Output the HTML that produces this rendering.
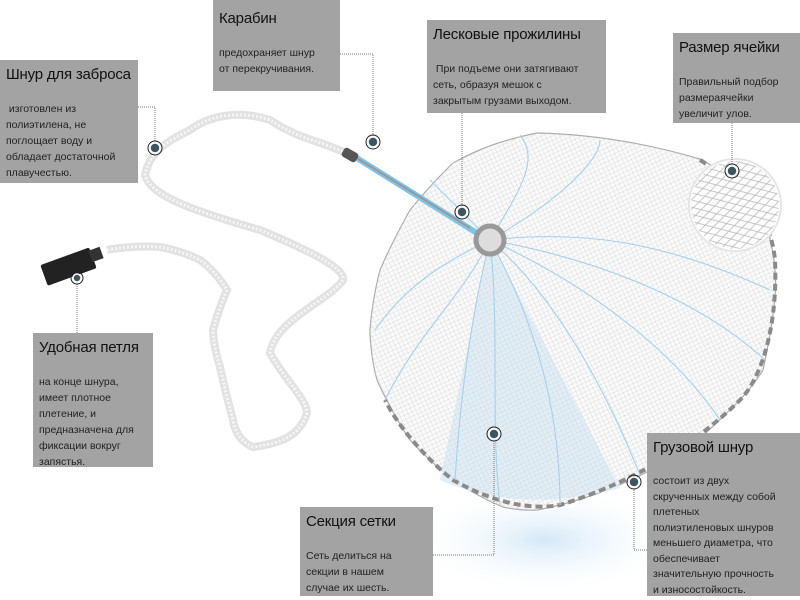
<!DOCTYPE html>
<html><head><meta charset="utf-8"><style>
body{margin:0;width:800px;height:600px;overflow:hidden;background:#fff;font-family:"Liberation Sans","DejaVu Sans",sans-serif;position:relative}
.b{position:absolute;background:#a3a3a3;color:#1e1e1e;box-sizing:border-box;padding:6px 4px 6px 6px;white-space:nowrap;overflow:hidden}
.b h{display:block;font-size:15px;color:#111;margin-bottom:18px;letter-spacing:-0.2px}
.b p{margin:0;font-size:10.5px;line-height:16px;color:#222}
svg{position:absolute;left:0;top:0}
</style></head><body>
<svg width="800" height="600" viewBox="0 0 800 600">
<defs>
<pattern id="mesh" width="6" height="6" patternUnits="userSpaceOnUse" patternTransform="rotate(20)">
<path d="M0 0L6 6M6 0L0 6" stroke="#d6d6d6" stroke-width="0.5"/>
</pattern>
<pattern id="mesh2" width="14" height="8" patternUnits="userSpaceOnUse" patternTransform="rotate(-15)">
<path d="M0 4L7 0L14 4L7 8Z" fill="none" stroke="#bbb" stroke-width="0.8"/>
</pattern>
<radialGradient id="glow" cx="0.5" cy="0.5" r="0.5"><stop offset="0" stop-color="#d3e8f7"/><stop offset="1" stop-color="#fff" stop-opacity="0"/></radialGradient>
</defs>
<ellipse cx="545" cy="540" rx="140" ry="55" fill="url(#glow)"/>
<path d="M537 133 C580 134 637 140 703 160 C740 185 770 210 770 240 C778 270 775 297 775 297 C772 330 763 370 763 370 C752 388 737 403 737 403 C712 428 687 450 687 450 C660 466 637 477 637 477 C610 490 587 497 587 497 C560 506 537 510 537 510 C520 511 503 507 503 507 C478 497 453 480 453 480 C430 462 410 440 410 440 C390 410 377 380 377 380 C370 355 370 330 370 330 C372 300 380 270 380 270 C393 240 410 210 410 210 C430 185 453 163 453 163 C480 148 503 140 537 133Z" fill="#fafafa" stroke="#aaa" stroke-width="1.2"/>
<path d="M490 240 L440 480 Q520 515 620 488 Z" fill="#e0eef8"/>
<path d="M537 133 C580 134 637 140 703 160 C740 185 770 210 770 240 C778 270 775 297 775 297 C772 330 763 370 763 370 C752 388 737 403 737 403 C712 428 687 450 687 450 C660 466 637 477 637 477 C610 490 587 497 587 497 C560 506 537 510 537 510 C520 511 503 507 503 507 C478 497 453 480 453 480 C430 462 410 440 410 440 C390 410 377 380 377 380 C370 355 370 330 370 330 C372 300 380 270 380 270 C393 240 410 210 410 210 C430 185 453 163 453 163 C480 148 503 140 537 133Z" fill="url(#mesh)"/>
<path d="M700 160 C740 185 770 210 775 260 C778 330 760 380 740 400 C700 440 640 480 560 505 C520 512 480 495 453 480 C430 462 400 430 385 400" fill="none" stroke="#8a8a8a" stroke-width="4" stroke-dasharray="7 4"/>
<g fill="none" stroke="#a6d0ea" stroke-width="1.1">
<path d="M490 240 C450 260 410 280 375 330"/><path d="M490 240 C460 300 420 330 385 400"/>
<path d="M490 240 C470 320 460 400 455 480"/><path d="M490 240 C500 330 490 420 500 505"/>
<path d="M490 240 C540 330 560 420 560 505"/><path d="M490 240 C560 300 610 400 640 475"/>
<path d="M490 240 C600 290 680 360 720 420"/><path d="M490 240 C600 260 700 300 765 360"/>
<path d="M490 240 C580 230 660 240 770 290"/><path d="M490 240 C560 200 600 160 600 140"/>
<path d="M490 240 C520 190 540 160 520 135"/><path d="M490 240 C450 200 430 180 430 180"/>
</g>
<path d="M352 155 L480 235" stroke="#7fc4ea" stroke-width="6"/>
<path d="M352 155 L470 228" stroke="#999" stroke-width="2"/>
<circle cx="490" cy="240" r="14" fill="#ddd" stroke="#999" stroke-width="5"/>
<circle cx="735" cy="205" r="46" fill="#fff" stroke="#e5e5e5" stroke-width="2"/>
<circle cx="735" cy="205" r="44" fill="url(#mesh2)"/>
<path d="M350 155 C320 140 300 140 270 120 C240 110 210 115 190 130 C170 140 150 150 145 175 C150 195 190 210 260 230 C320 255 345 270 343 280 C330 300 275 320 270 353 C285 380 307 400 307 413 C300 435 283 443 253 447 C235 440 233 420 233 420 C225 390 220 367 220 367 C213 345 213 330 213 330 C220 305 227 290 227 290 C215 270 200 260 200 260 C180 250 160 247 160 247 C130 245 107 250 107 250" fill="none" stroke="#e2e2e2" stroke-width="8"/>
<path d="M350 155 C320 140 300 140 270 120 C240 110 210 115 190 130 C170 140 150 150 145 175 C150 195 190 210 260 230 C320 255 345 270 343 280 C330 300 275 320 270 353 C285 380 307 400 307 413 C300 435 283 443 253 447 C235 440 233 420 233 420 C225 390 220 367 220 367 C213 345 213 330 213 330 C220 305 227 290 227 290 C215 270 200 260 200 260 C180 250 160 247 160 247 C130 245 107 250 107 250" fill="none" stroke="#f6f6f6" stroke-width="3" stroke-dasharray="2 2"/>
<rect x="342" y="150" width="16" height="10" rx="3" fill="#555" transform="rotate(30 350 155)"/>
<g transform="rotate(-20 70 265)"><rect x="42" y="255" width="52" height="22" rx="2" fill="#222"/><rect x="92" y="258" width="12" height="12" fill="#333"/></g>
<g fill="none" stroke="#777" stroke-width="1" stroke-dasharray="1 1">
<path d="M138 107 H155 V148"/><path d="M340 54 H373 V142"/><path d="M462 113 V212"/><path d="M732 123 V171"/>
<path d="M77 278 V333"/><path d="M433 555 H494 V434"/><path d="M634 482 V550 H647"/>
</g>
<g fill="#3d5560" stroke="#fff" stroke-width="1.5">
<circle cx="155" cy="148" r="5"/><circle cx="373" cy="142" r="5"/><circle cx="462" cy="212" r="5"/><circle cx="732" cy="171" r="5"/><circle cx="77" cy="278" r="4"/><circle cx="494" cy="434" r="5"/><circle cx="634" cy="482" r="5"/>
</g>
<g fill="none" stroke="#222" stroke-width="1">
<circle cx="155" cy="148" r="7"/><circle cx="373" cy="142" r="7"/><circle cx="462" cy="212" r="7"/><circle cx="732" cy="171" r="7"/><circle cx="77" cy="278" r="6"/><circle cx="494" cy="434" r="7"/><circle cx="634" cy="482" r="7"/>
</g>
</svg>
<div class="b" style="left:0;top:60px;width:138px;height:123px"><h>Шнур для заброса</h><p>&nbsp;изготовлен из<br>полиэтилена, не<br>поглощает воду и<br>обладает достаточной<br>плавучестью.</p></div>
<div class="b" style="left:213px;top:0;width:127px;height:91px"><h style="margin-top:4px">Карабин</h><p>предохраняет шнур<br>от перекручивания.</p></div>
<div class="b" style="left:427px;top:20px;width:179px;height:93px"><h>Лесковые прожилины</h><p>&nbsp;При подъеме они затягивают<br>сеть, образуя мешок с<br>закрытым грузами выходом.</p></div>
<div class="b" style="left:673px;top:33px;width:127px;height:90px"><h>Размер ячейки</h><p>Правильный подбор<br>размераячейки<br>увеличит улов.</p></div>
<div class="b" style="left:33px;top:333px;width:120px;height:134px"><h>Удобная петля</h><p>на конце шнура,<br>имеет плотное<br>плетение, и<br>предназначена для<br>фиксации вокруг<br>запястья.</p></div>
<div class="b" style="left:300px;top:507px;width:133px;height:89px"><h>Секция сетки</h><p>Сеть делиться на<br>секции в нашем<br>случае их шесть.</p></div>
<div class="b" style="left:647px;top:433px;width:153px;height:163px"><h>Грузовой шнур</h><p style="line-height:15.5px">состоит из двух<br>скрученных между собой<br>плетеных<br>полиэтиленовых шнуров<br>меньшего диаметра, что<br>обеспечивает<br>значительную прочность<br>и износостойкость.</p></div>
</body></html>
